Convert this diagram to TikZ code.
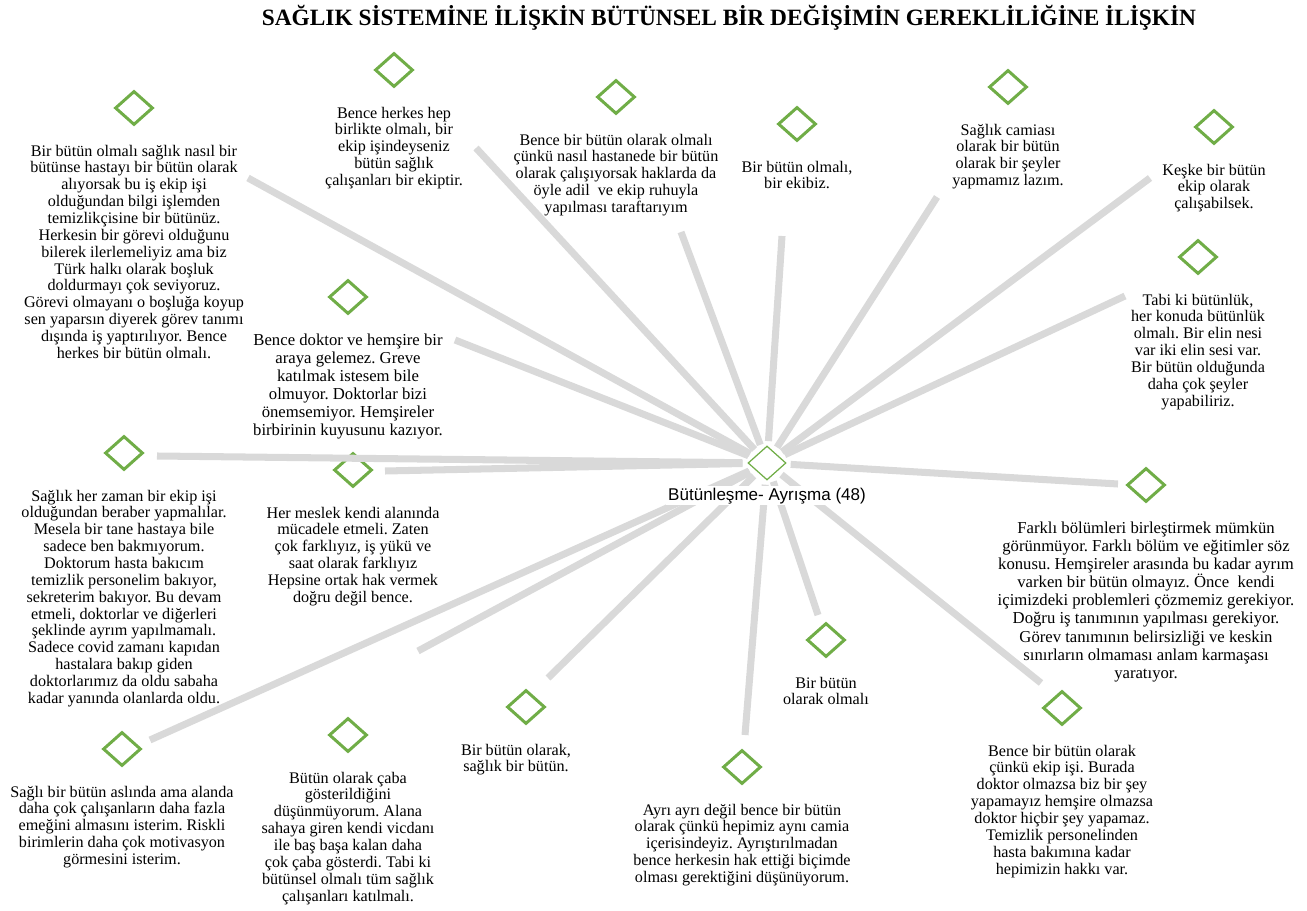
\documentclass[tikz,border=0pt]{standalone}
\usepackage{fontspec}
\setmainfont{Liberation Serif}
\newfontfamily\hubfont{Liberation Sans}
\usetikzlibrary{positioning,shapes.geometric}
\definecolor{leafgreen}{RGB}{112,173,71}
\definecolor{spokegray}{RGB}{217,217,217}
\frenchspacing

\begin{document}
\begin{tikzpicture}[x=0.02cm,y=-0.02cm,node distance=0.36cm]
    \tikzset{
        leaf/.style={diamond,draw=leafgreen,line width=1.7pt,
            minimum width=0.76cm,minimum height=0.68cm,inner sep=0pt},
        hubleaf/.style={leaf,line width=0.7pt},
        quote/.style={align=center,inner sep=0pt,
            font=\fontsize{9.2}{9.6}\selectfont},
        bigquote/.style={quote,font=\fontsize{9.5}{10.3}\selectfont},
        spoke/.style={draw=spokegray,line width=4pt,shorten <=3pt}
    }
    \useasboundingbox (0,0) rectangle (1307,911);

    \node[font=\fontsize{13.3}{15}\selectfont\bfseries] (title) at (729,18)
        {SAĞLIK SİSTEMİNE İLİŞKİN BÜTÜNSEL BİR DEĞİŞİMİN GEREKLİLİĞİNE İLİŞKİN};

    % merkez ve yapraklar
    \node[hubleaf] (hub) at (767,463) {};
    \foreach \i/\x/\y in {1/134/108, 2/394/70, 3/616/97, 4/797/124,
        5/1008/87, 6/1214/127, 7/1198/257, 8/348/297, 9/124/453,
        10/353/470, 11/1146/485, 12/826/640, 13/1062/708, 14/122/749,
        15/348/735, 16/526/707, 17/742/767}
        \node[leaf] (d\i) at (\x,\y) {};

    % kollarin uclari
    \foreach \i/\x/\y in {1/248/178, 2/476/148, 3/681/232, 4/782/236,
        5/937/197, 6/1150/178, 7/1125/296, 8/455/340, 9/157/456,
        10/385/471, 11/1118/484, 12/818/615, 13/1041/683, 14/150/740,
        15/418/651, 16/548/678, 17/745/735}
        \coordinate (e\i) at (\x,\y);
    \foreach \i in {1,...,17}
        \draw[spoke] (hub) -- (e\i);

    \node[font=\hubfont\fontsize{9.7}{11}\selectfont,fill=white,inner sep=1pt,
        below=0.1cm of hub] (hublabel) {Bütünleşme- Ayrışma (48)};

    \node[quote,below=of d1] (t1) {Bir bütün olmalı sağlık nasıl bir\\
        bütünse hastayı bir bütün olarak\\alıyorsak bu iş ekip işi\\
        olduğundan bilgi işlemden\\temizlikçisine bir bütünüz.\\
        Herkesin bir görevi olduğunu\\bilerek ilerlemeliyiz ama biz\\
        Türk halkı olarak boşluk\\doldurmayı çok seviyoruz.\\
        Görevi olmayanı o boşluğa koyup\\sen yaparsın diyerek görev tanımı\\
        dışında iş yaptırılıyor. Bence\\herkes bir bütün olmalı.};
    \node[quote,below=of d2] (t2) {Bence herkes hep\\birlikte olmalı, bir\\
        ekip işindeyseniz\\bütün sağlık\\çalışanları bir ekiptir.};
    \node[quote,below=of d3] (t3) {Bence bir bütün olarak olmalı\\
        çünkü nasıl hastanede bir bütün\\olarak çalışıyorsak haklarda da\\
        öyle adil\ \ ve ekip ruhuyla\\yapılması taraftarıyım};
    \node[quote,below=of d4] (t4) {Bir bütün olmalı,\\bir ekibiz.};
    \node[quote,below=of d5] (t5) {Sağlık camiası\\olarak bir bütün\\
        olarak bir şeyler\\yapmamız lazım.};
    \node[quote,below=of d6] (t6) {Keşke bir bütün\\ekip olarak\\çalışabilsek.};
    \node[quote,below=of d7] (t7) {Tabi ki bütünlük,\\her konuda bütünlük\\
        olmalı. Bir elin nesi\\var iki elin sesi var.\\Bir bütün olduğunda\\
        daha çok şeyler\\yapabiliriz.};
    \node[bigquote,below=of d8] (t8) {Bence doktor ve hemşire bir\\
        araya gelemez. Greve\\katılmak istesem bile\\olmuyor. Doktorlar bizi\\
        önemsemiyor. Hemşireler\\birbirinin kuyusunu kazıyor.};
    \node[quote,below=of d9] (t9) {Sağlık her zaman bir ekip işi\\
        olduğundan beraber yapmalılar.\\Mesela bir tane hastaya bile\\
        sadece ben bakmıyorum.\\Doktorum hasta bakıcım\\
        temizlik personelim bakıyor,\\sekreterim bakıyor. Bu devam\\
        etmeli, doktorlar ve diğerleri\\şeklinde ayrım yapılmamalı.\\
        Sadece covid zamanı kapıdan\\hastalara bakıp giden\\
        doktorlarımız da oldu sabaha\\kadar yanında olanlarda oldu.};
    \node[quote,below=of d10] (t10) {Her meslek kendi alanında\\
        mücadele etmeli. Zaten\\çok farklıyız, iş yükü ve\\
        saat olarak farklıyız\\Hepsine ortak hak vermek\\doğru değil bence.};
    \node[bigquote,below=of d11] (t11) {Farklı bölümleri birleştirmek mümkün\\
        görünmüyor. Farklı bölüm ve eğitimler söz\\
        konusu. Hemşireler arasında bu kadar ayrım\\
        varken bir bütün olmayız. Önce\ \ kendi\\
        içimizdeki problemleri çözmemiz gerekiyor.\\
        Doğru iş tanımının yapılması gerekiyor.\\
        Görev tanımının belirsizliği ve keskin\\
        sınırların olmaması anlam karmaşası\\yaratıyor.};
    \node[quote,below=of d12] (t12) {Bir bütün\\olarak olmalı};
    \node[quote,below=of d13] (t13) {Bence bir bütün olarak\\
        çünkü ekip işi. Burada\\doktor olmazsa biz bir şey\\
        yapamayız hemşire olmazsa\\doktor hiçbir şey yapamaz.\\
        Temizlik personelinden\\hasta bakımına kadar\\hepimizin hakkı var.};
    \node[quote,below=of d14] (t14) {Sağlı bir bütün aslında ama alanda\\
        daha çok çalışanların daha fazla\\emeğini almasını isterim. Riskli\\
        birimlerin daha çok motivasyon\\görmesini isterim.};
    \node[quote,below=of d15] (t15) {Bütün olarak çaba\\gösterildiğini\\
        düşünmüyorum. Alana\\sahaya giren kendi vicdanı\\
        ile baş başa kalan daha\\çok çaba gösterdi. Tabi ki\\
        bütünsel olmalı tüm sağlık\\çalışanları katılmalı.};
    \node[quote,below=of d16,xshift=-0.2cm] (t16) {Bir bütün olarak,\\sağlık bir bütün.};
    \node[quote,below=of d17] (t17) {Ayrı ayrı değil bence bir bütün\\
        olarak çünkü hepimiz aynı camia\\içerisindeyiz. Ayrıştırılmadan\\
        bence herkesin hak ettiği biçimde\\olması gerektiğini düşünüyorum.};
\end{tikzpicture}
\end{document}
